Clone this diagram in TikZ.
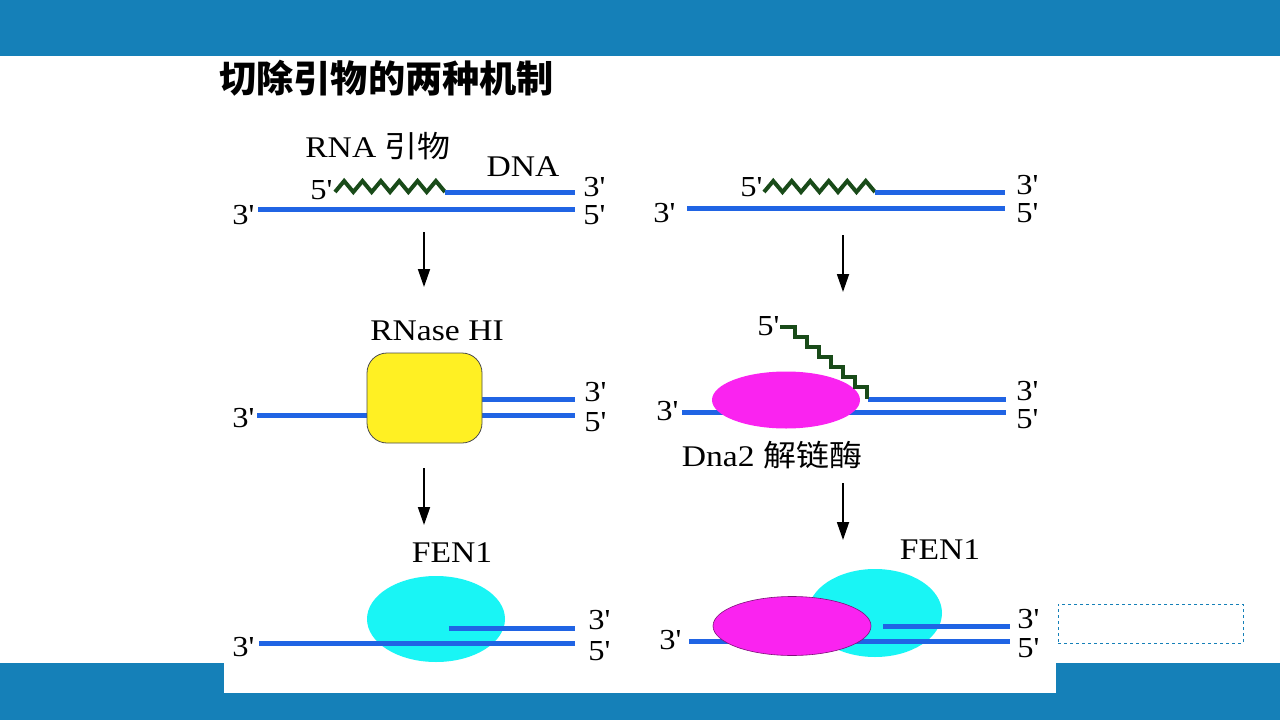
\documentclass[tikz,border=0pt]{standalone}
\usepackage{fontspec}
\setmainfont{Liberation Serif}[FakeStretch=1.12]
\newfontfamily\cjk{Noto Sans CJK SC}
\newfontfamily\cjkst{Noto Sans CJK SC}[FakeStretch=1.1]
\usetikzlibrary{arrows.meta,shapes.geometric}
\definecolor{band}{RGB}{21,128,184}
\definecolor{dnablue}{RGB}{32,100,228}
\definecolor{rnagreen}{RGB}{25,75,25}
\definecolor{yel}{RGB}{255,240,35}
\definecolor{mag}{RGB}{250,35,240}
\definecolor{cyn}{RGB}{25,245,245}
\newcommand\pr{\textquotesingle}
\begin{document}
\begin{tikzpicture}[x=1pt,y=-1pt,
  strand/.style={line width=5pt,draw=dnablue},
  rna/.style={line width=4pt,draw=rnagreen,line join=miter},
  lbl/.style={font=\fontsize{30}{34}\selectfont,inner sep=0pt},
  endlbl/.style={font=\fontsize{29}{33}\selectfont,inner sep=0pt},
  flow/.style={line width=1.8pt,-{Triangle[length=18pt,width=12pt]}},
  blob/.style={ellipse,inner sep=0pt}]
\useasboundingbox (0,0) rectangle (1280,720);
\fill[white] (0,0) rectangle (1280,720);
\fill[band] (0,0) rectangle (1280,56);
\fill[band] (0,663) rectangle (1280,720);
\fill[white] (224,663) rectangle (1056,693);
\node[draw=band,dashed,line width=0.8pt,minimum width=185pt,minimum height=39pt,inner sep=0pt] (dbox) at (1150.5,623.5) {};
\node[anchor=west,inner sep=0pt,font=\cjk\bfseries\fontsize{37.2}{40}\selectfont] (title) at (219,78) {切除引物的两种机制};

% ---- left column, step 1
\node[lbl] (t1) at (378,146) {RNA {\cjkst 引物}};
\node[lbl] (t2) at (523,167) {DNA};
\node[endlbl] (l1a) at (321,190) {5\pr};
\draw[rna] (335,192) \foreach \i in {1,...,6}{ -- ++(9.17,-11) -- ++(9.17,11)};
\draw[strand] (445,192) -- (575,192);
\draw[strand] (258,209) -- (575,209);
\node[endlbl] (l1b) at (243,215) {3\pr};
\node[endlbl] (l1c) at (594,187) {3\pr};
\node[endlbl] (l1d) at (594,215) {5\pr};

% ---- left column, step 2
\node[lbl] (t3) at (437,331) {RNase HI};
\draw[strand] (257,415) -- (575,415);
\draw[strand] (482,399) -- (575,399);
\node[draw=black!70,line width=0.8pt,fill=yel,rounded corners=20pt,minimum width=115pt,minimum height=90pt] (rnase) at (424.5,398) {};
\node[endlbl] (l2a) at (243,418) {3\pr};
\node[endlbl] (l2b) at (595,392) {3\pr};
\node[endlbl] (l2c) at (595,422) {5\pr};

% ---- left column, step 3
\node[lbl] (t4) at (452,553) {FEN1};
\node[blob,fill=cyn,minimum width=138pt,minimum height=86pt] (fen1) at (436,619) {};
\draw[strand] (449,628) -- (575,628);
\draw[strand] (259,643) -- (575,643);
\node[endlbl] (l3a) at (243,647) {3\pr};
\node[endlbl] (l3b) at (599,620) {3\pr};
\node[endlbl] (l3c) at (599,651) {5\pr};

% ---- right column, step 1
\node[endlbl] (r1a) at (751,187) {5\pr};
\draw[rna] (764,192) \foreach \i in {1,...,6}{ -- ++(9.25,-11) -- ++(9.25,11)};
\draw[strand] (875,192) -- (1005,192);
\draw[strand] (687,208) -- (1005,208);
\node[endlbl] (r1b) at (664,213) {3\pr};
\node[endlbl] (r1c) at (1027,185) {3\pr};
\node[endlbl] (r1d) at (1027,213) {5\pr};

% ---- right column, step 2
\draw[strand] (868,399) -- (1006,399);
\draw[strand] (682,412) -- (1006,412);
\node[blob,fill=mag,minimum width=148pt,minimum height=57pt] (dna2) at (786,400) {};
\draw[rna] (780,327) -- (795,327) \foreach \i in {1,...,6}{ -- ++(0,10) -- ++(12,0)} -- ++(0,12);
\node[endlbl] (r2a) at (768,326) {5\pr};
\node[endlbl] (r2b) at (667,411) {3\pr};
\node[endlbl] (r2c) at (1027,391) {3\pr};
\node[endlbl] (r2d) at (1027,419) {5\pr};
\node[lbl] (t5) at (772,455) {Dna2 {\cjkst 解链酶}};

% ---- right column, step 3
\node[blob,fill=cyn,minimum width=134pt,minimum height=88pt] (fen2) at (875,613) {};
\draw[strand] (883,626) -- (1010,626);
\draw[strand] (689,641) -- (1010,641);
\node[blob,fill=mag,draw=mag!50!black,line width=0.6pt,minimum width=158pt,minimum height=59pt] (dna2b) at (792,626) {};
\node[endlbl] (r3a) at (670,640) {3\pr};
\node[endlbl] (r3b) at (1028,619) {3\pr};
\node[endlbl] (r3c) at (1028,648) {5\pr};
\node[lbl] (t6) at (940,550) {FEN1};

% ---- arrows
\coordinate (a1s) at (424,232); \coordinate (a1e) at (424,287);
\coordinate (a2s) at (424,468); \coordinate (a2e) at (424,525);
\coordinate (a3s) at (843,235); \coordinate (a3e) at (843,292);
\coordinate (a4s) at (843,483); \coordinate (a4e) at (843,540);
\draw[flow] (a1s) -- (a1e);
\draw[flow] (a2s) -- (a2e);
\draw[flow] (a3s) -- (a3e);
\draw[flow] (a4s) -- (a4e);
\end{tikzpicture}
\end{document}
